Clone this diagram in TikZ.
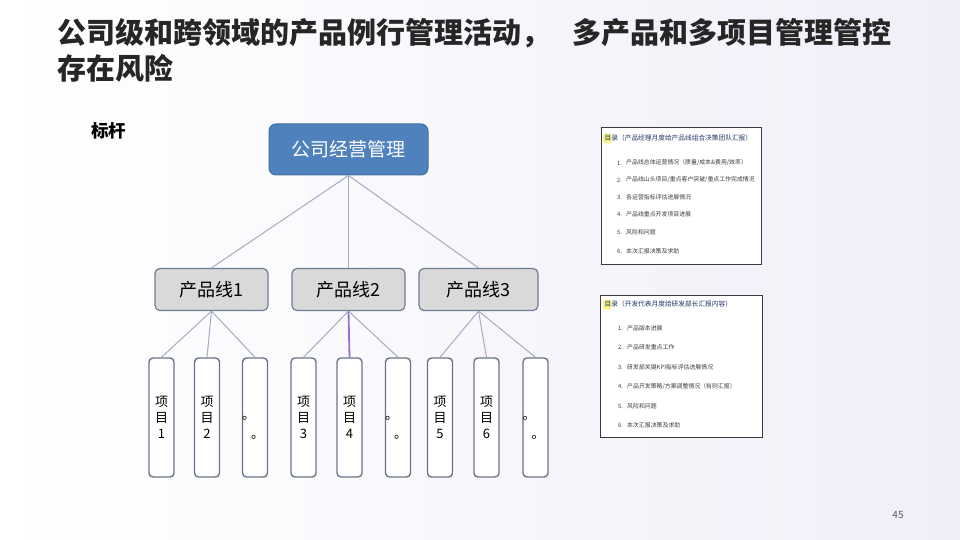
\documentclass[tikz,border=0pt]{standalone}
\usepackage{fontspec}
\setmainfont{Noto Sans CJK SC}
\definecolor{topblue}{HTML}{4F81BD}
\definecolor{topborder}{HTML}{41719C}
\definecolor{plfill}{HTML}{D9D9D9}
\definecolor{plborder}{HTML}{6F7D93}
\definecolor{itemborder}{HTML}{6B7488}
\definecolor{linkcol}{HTML}{A3ACC4}
\definecolor{purplelink}{HTML}{9470D8}
\definecolor{panelborder}{HTML}{3A3A3A}
\definecolor{paneltitle}{HTML}{203864}
\definecolor{paneltext}{HTML}{3C3C3C}
\definecolor{bgright}{HTML}{F1EEF8}
\definecolor{hilite}{HTML}{FFF36B}
\newcommand{\dotpair}{\smash{\makebox[0pt][l]{\hspace{-13pt}\raisebox{-2pt}{。}}\makebox[0pt][l]{\hspace{-4pt}\raisebox{-21pt}{。}}}}
\tikzset{
  topbox/.style={draw=topborder, fill=topblue, rounded corners=7pt, minimum width=159pt, minimum height=51pt, text=white, font=\fontsize{19}{19}\selectfont, line width=1pt, inner sep=0pt},
  plbox/.style={draw=plborder, fill=plfill, rounded corners=5pt, minimum height=42pt, font=\fontsize{18}{18}\selectfont, line width=1.2pt, inner sep=0pt},
  itembox/.style={draw=itemborder, fill=white, rounded corners=4pt, minimum width=25pt, minimum height=119pt, line width=1.4pt, align=center, font=\fontsize{13}{16}\selectfont, inner sep=0pt},
  link/.style={draw=linkcol, line width=1pt},
  plink/.style={draw=purplelink, line width=1.8pt},
  panel/.style={draw=panelborder, fill=white, line width=1pt, inner sep=0pt},
  ptitle/.style={anchor=west, inner sep=0pt, text=paneltitle, font=\fontsize{6.7}{6.7}\selectfont},
  pnum/.style={anchor=west, inner sep=0pt, text=paneltext, font=\fontsize{5.9}{5.9}\selectfont},
  ptext/.style={anchor=west, inner sep=0pt, text=paneltext, font=\fontsize{5.9}{5.9}\selectfont},
}
\begin{document}
\begin{tikzpicture}[x=1pt,y=-1pt]
\useasboundingbox (0,0) rectangle (960,540);
\fill[left color=white, right color=bgright] (0,0) rectangle (960,540);

% title
\node[anchor=base west, inner sep=0pt, font=\fontsize{29}{29}\selectfont\bfseries, text=black!85] (title1) at (57,43.5) {公司级和跨领域的产品例行管理活动，\hspace{22pt}多产品和多项目管理管控};
\node[anchor=base west, inner sep=0pt, font=\fontsize{29}{29}\selectfont\bfseries, text=black!85] (title2) at (57,79.5) {存在风险};
\node[anchor=base west, inner sep=0pt, font=\fontsize{17.5}{17.5}\selectfont\bfseries] (bench) at (91,138) {标杆};

% tree
\node[topbox] (top) at (348.5,149.5) {公司经营管理};
\node[plbox, minimum width=113pt] (pl1) at (211.5,289.5) {产品线1};
\node[plbox, minimum width=113pt] (pl2) at (348.5,289.5) {产品线2};
\node[plbox, minimum width=119pt] (pl3) at (478.5,289.5) {产品线3};

\node[itembox] (i1) at (161.5,417.5) {项\\目\\1};
\node[itembox] (i2) at (207,417.5) {项\\目\\2};
\node[itembox] (i3) at (255,417.5) {\dotpair};
\node[itembox] (i4) at (303.5,417.5) {项\\目\\3};
\node[itembox] (i5) at (349.5,417.5) {项\\目\\4};
\node[itembox] (i6) at (398,417.5) {\dotpair};
\node[itembox] (i7) at (440,417.5) {项\\目\\5};
\node[itembox] (i8) at (486.5,417.5) {项\\目\\6};
\node[itembox] (i9) at (535.5,417.5) {\dotpair};

\draw[link] (top.south) -- (pl1.north);
\draw[link] (top.south) -- (pl2.north);
\draw[link] (top.south) -- (pl3.north);
\draw[link] (pl1.south) -- (i1.north);
\draw[link] (pl1.south) -- (i2.north);
\draw[link] (pl1.south) -- (i3.north);
\draw[link] (pl2.south) -- (i4.north);
\draw[plink] (pl2.south) -- (i5.north);
\draw[link] (pl2.south) -- (i6.north);
\draw[link] (pl3.south) -- (i7.north);
\draw[link] (pl3.south) -- (i8.north);
\draw[link] (pl3.south) -- (i9.north);

% panel 1
\node[panel, minimum width=160pt, minimum height=136pt] (panA) at (681,196) {};
\fill[hilite, opacity=0.8, rounded corners=2pt] (603,133.5) rectangle (611.5,143.5);
\node[ptitle] (panAt) at (604.5,138) {目录（产品经理月度给产品线组合决策团队汇报）};
\node[pnum] (a1n) at (617,163) {1.};
\node[ptext] (a1t) at (626,163) {产品线总体运营情况（质量/成本\&费用/效率）};
\node[pnum] (a2n) at (617,180) {2.};
\node[ptext] (a2t) at (626,180) {产品线山头项目/重点客户突破/重点工作完成情况};
\node[pnum] (a3n) at (617,197.5) {3.};
\node[ptext] (a3t) at (626,197.5) {各运营指标评估进展情况};
\node[pnum] (a4n) at (617,214.5) {4.};
\node[ptext] (a4t) at (626,214.5) {产品线重点开发项目进展};
\node[pnum] (a5n) at (617,232.5) {5.};
\node[ptext] (a5t) at (626,232.5) {风险和问题};
\node[pnum] (a6n) at (617,251) {6.};
\node[ptext] (a6t) at (626,251) {本次汇报决策及求助};

% panel 2
\node[panel, minimum width=162pt, minimum height=142pt] (panB) at (681,366) {};
\fill[hilite, opacity=0.8, rounded corners=2pt] (603,299.5) rectangle (611.5,309.5);
\node[ptitle] (panBt) at (604.5,304) {目录（开发代表月度给研发部长汇报内容）};
\node[pnum] (b1n) at (618,328) {1.};
\node[ptext] (b1t) at (627,328) {产品版本进展};
\node[pnum] (b2n) at (618,347) {2.};
\node[ptext] (b2t) at (627,347) {产品研发重点工作};
\node[pnum] (b3n) at (618,367) {3.};
\node[ptext] (b3t) at (627,367) {研发部关键KPI指标评估进展情况};
\node[pnum] (b4n) at (618,386.5) {4.};
\node[ptext] (b4t) at (627,386.5) {产品开发策略/方案调整情况（有则汇报）};
\node[pnum] (b5n) at (618,406) {5.};
\node[ptext] (b5t) at (627,406) {风险和问题};
\node[pnum] (b6n) at (618,425) {6.};
\node[ptext] (b6t) at (627,425) {本次汇报决策及求助};

% page number
\node[inner sep=0pt, font=\fontsize{10}{10}\selectfont, text=black!65] (pgnum) at (898,515) {45};
\end{tikzpicture}
\end{document}
